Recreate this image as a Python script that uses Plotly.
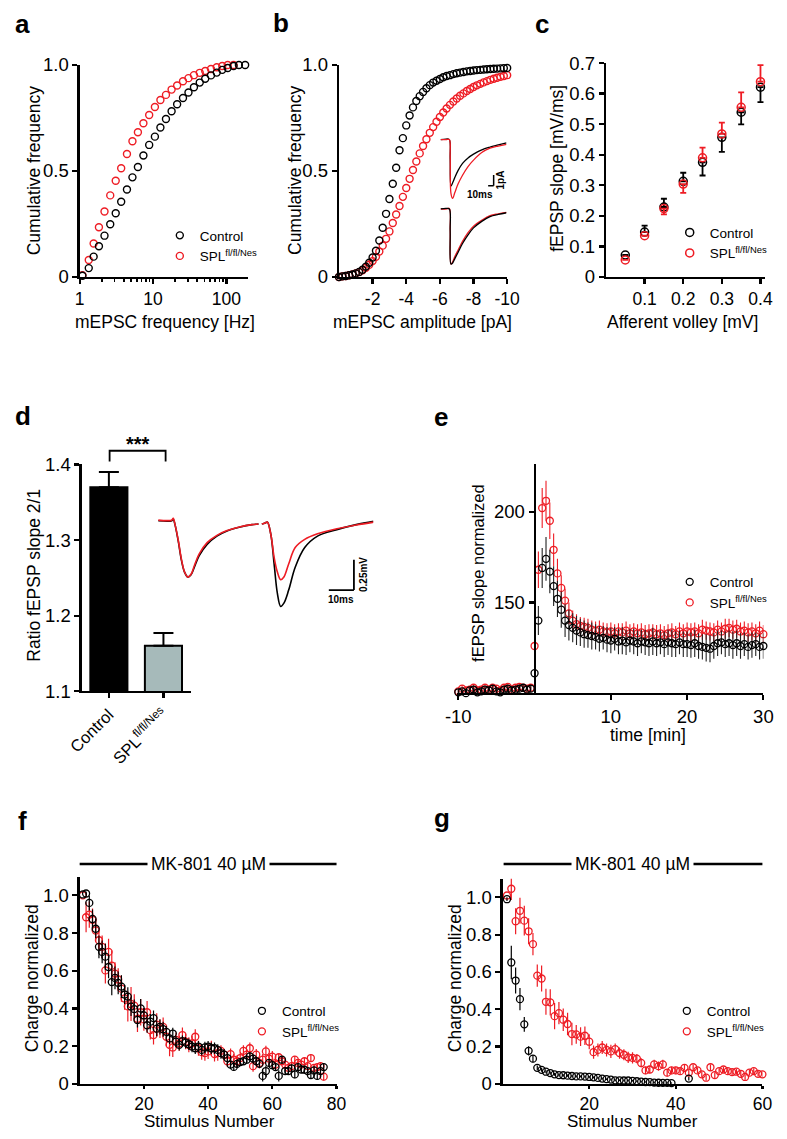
import plotly.graph_objects as go

W, H = 787, 1139
FONT = "Liberation Sans, Arial, sans-serif"
RED = "#ee1c24"
BLK = "#000000"
GREYBAR = "#a6baba"

# ---------------- data ----------------
# a: cumulative frequency of mEPSC frequency
freq_a = [1.09, 1.33, 1.55, 1.83, 2.18, 2.61, 3.10, 3.68, 4.41, 5.24, 6.22, 7.39, 8.86, 10.6, 12.6,
          15.0, 17.9, 21.3, 25.6, 30.4, 36.1, 43.3, 51.4, 61.6, 73.8, 87.7, 104, 125, 148, 180]
ctrl_a = [0.006, 0.042, 0.096, 0.145, 0.195, 0.249, 0.301, 0.355, 0.413, 0.47, 0.519, 0.573, 0.623, 0.662,
          0.705, 0.745, 0.782, 0.815, 0.844, 0.870, 0.895, 0.917, 0.935, 0.951, 0.964, 0.977, 0.986, 0.995,
          1.0, 1.0]
spl_a = [0.009, 0.080, 0.158, 0.235, 0.309, 0.385, 0.454, 0.513, 0.580, 0.640, 0.683, 0.725, 0.764, 0.802,
         0.835, 0.859, 0.884, 0.903, 0.923, 0.938, 0.952, 0.963, 0.972, 0.981, 0.989, 0.995, 1.0, 1.0]

# b: cumulative frequency of mEPSC amplitude
amp_b = [0, -0.2, -0.4, -0.6, -0.8, -1.0, -1.2, -1.4, -1.6, -1.8, -2.0, -2.2, -2.4, -2.6, -2.8, -3.0,
         -3.2, -3.4, -3.6, -3.8, -4.0, -4.2, -4.4, -4.6, -4.8, -5.0, -5.2, -5.4, -5.6, -5.8, -6.0, -6.2,
         -6.4, -6.6, -6.8, -7.0, -7.2, -7.4, -7.6, -7.8, -8.0, -8.2, -8.4, -8.6, -8.8, -9.0, -9.2, -9.4,
         -9.6, -9.8, -10.0]
ctrl_b = [0.0, 0.003, 0.005, 0.008, 0.012, 0.017, 0.024, 0.034, 0.049, 0.067, 0.092, 0.124, 0.172, 0.232,
          0.298, 0.368, 0.44, 0.515, 0.598, 0.655, 0.715, 0.762, 0.80, 0.83, 0.853, 0.873, 0.89, 0.905,
          0.917, 0.926, 0.934, 0.942, 0.948, 0.952, 0.957, 0.961, 0.964, 0.967, 0.970, 0.972, 0.974,
          0.976, 0.977, 0.979, 0.980, 0.981, 0.982, 0.983, 0.984, 0.985, 0.986]
spl_b = [0.0, 0.003, 0.005, 0.008, 0.012, 0.017, 0.023, 0.032, 0.044, 0.058, 0.075, 0.095, 0.12, 0.148,
         0.18, 0.215, 0.255, 0.295, 0.335, 0.378, 0.42, 0.463, 0.505, 0.545, 0.583, 0.618, 0.65, 0.68,
         0.707, 0.732, 0.755, 0.776, 0.795, 0.812, 0.828, 0.842, 0.855, 0.866, 0.877, 0.887, 0.896,
         0.904, 0.911, 0.918, 0.924, 0.93, 0.935, 0.94, 0.944, 0.948, 0.952]

# b insets: averaged mEPSC traces (time ms, current pA)
t_b_inset = [0, 10, 16, 17.5, 19, 22, 26, 32, 40, 50, 60, 75, 90, 105, 120]
up_ctrl = [0, 0.05, 0, -1.8, -4.3, -4.0, -3.5, -2.85, -2.2, -1.7, -1.35, -0.95, -0.7, -0.5, -0.3]
up_spl = [0, 0, 0, -1.5, -5.0, -5.45, -4.9, -4.1, -3.3, -2.5, -1.9, -1.2, -0.8, -0.6, -0.45]
low_ctrl = [0, 0.05, 0, -2.0, -5.1, -5.0, -4.6, -4.0, -3.2, -2.4, -1.75, -1.15, -0.7, -0.5, -0.35]
low_spl = [0, 0, 0.05, -2.0, -5.1, -4.9, -4.4, -3.8, -3.0, -2.2, -1.6, -1.05, -0.62, -0.45, -0.32]

# c: input-output
volley_c = [0.05, 0.10, 0.15, 0.20, 0.25, 0.30, 0.35, 0.40]
ctrl_c = [0.072, 0.147, 0.229, 0.313, 0.375, 0.457, 0.539, 0.621]
ctrl_c_up = [0, 0.021, 0.027, 0.028, 0, 0, 0, 0]
ctrl_c_dn = [0, 0, 0, 0, 0.043, 0.048, 0.040, 0.049]
spl_c = [0.056, 0.135, 0.224, 0.304, 0.390, 0.468, 0.555, 0.639]
spl_c_up = [0, 0, 0, 0, 0.033, 0.037, 0.049, 0.054]
spl_c_dn = [0, 0, 0.019, 0.029, 0, 0, 0, 0]

# d: paired-pulse ratio
groups_d = ["Control", "SPL<sup>fl/fl/Nes</sup>"]
ratio_d = [1.37, 1.16]
ratio_err_d = [0.02, 0.017]
# d inset traces (time ms, mV)
t_d = [0, 5.4, 6.0, 6.7, 8.0, 9.3, 10.5, 11.8, 13.1, 14.4, 16.3, 19.5, 23.4, 27.2, 32.3, 37.4, 40.0, None,
       41.3, 42.6, 43.5, 44.9, 46.2, 47.5, 48.8, 50.1, 52.0, 54.6, 58.4, 63.5, 71.2, 78.9, 85.9]
v_d_ctrl = [0, 0, 0.013, -0.032, -0.167, -0.328, -0.422, -0.463, -0.444, -0.382, -0.288, -0.194, -0.126,
            -0.086, -0.054, -0.032, -0.027, None, -0.027, -0.019, -0.01, -0.113, -0.355, -0.597, -0.704,
            -0.677, -0.57, -0.382, -0.22, -0.126, -0.073, -0.032, -0.005]
v_d_spl = [0.005, 0.005, 0.02, -0.03, -0.16, -0.32, -0.42, -0.463, -0.44, -0.37, -0.275, -0.18, -0.12,
           -0.083, -0.052, -0.032, -0.027, None, -0.027, -0.019, -0.01, -0.113, -0.301, -0.422, -0.484,
           -0.462, -0.355, -0.22, -0.153, -0.107, -0.065, -0.035, -0.011]

# e: LTP time course
t_e = [-10, -9.5, -9, -8.5, -8, -7.5, -7, -6.5, -6, -5.5, -5, -4.5, -4, -3.5, -3, -2.5, -2, -1.5, -1, -0.5,
       0, 0.5, 1, 1.5, 2, 2.5, 3, 3.5, 4, 4.5, 5, 5.5, 6, 6.5, 7, 7.5, 8, 8.5, 9, 9.5,
       10, 10.5, 11, 11.5, 12, 12.5, 13, 13.5, 14, 14.5, 15, 15.5, 16, 16.5, 17, 17.5, 18, 18.5, 19, 19.5,
       20, 20.5, 21, 21.5, 22, 22.5, 23, 23.5, 24, 24.5, 25, 25.5, 26, 26.5, 27, 27.5, 28, 28.5, 29, 29.5, 30]
ctrl_e = [100.5, 101, 100, 101.5, 102, 100.5, 101, 102, 101.5, 102.5, 101, 100.5, 102, 102.5, 101.5, 102,
          102.5, 103, 102, 102.5,
          111, 140, 169, 174, 167, 159, 152, 146, 140, 137.5, 136, 134.5, 133.5, 132.5, 132, 131.5, 131, 130,
          130.5, 129.5, 129, 130, 128.5, 129, 128, 129, 128.5, 127.5, 128.5, 128, 127.5, 128.5, 127.5, 128,
          127, 128, 127.5, 127, 128, 127, 127, 126.5, 127.5, 126, 125.5, 125, 124.5, 126, 127.5, 128, 127,
          127.5, 126.5, 127.5, 126, 127, 125.5, 126.5, 127, 125.5, 126]
ctrl_e_err = [1.5, 1.5, 2, 1.5, 2, 1.5, 2, 1.5, 2, 2, 1.5, 2, 1.5, 2, 2, 1.5, 2, 2, 1.5, 2,
              4, 8, 11, 12, 12, 11, 10, 10, 9, 8.5, 8, 8, 7.5, 7.5, 7, 7.5, 7, 7, 6.5, 7,
              7, 6.5, 7, 7.5, 7, 6.5, 7, 7, 6.5, 7, 7, 7.5, 7, 6.5, 7, 7, 7.5, 7, 6.5, 7,
              7, 7, 7.5, 7, 7, 7.5, 7.5, 7, 7, 6.5, 7, 7, 7.5, 7, 7, 6.5, 7, 7, 6.5, 7, 7]
spl_e = [101, 102.5, 101.5, 102, 103, 101.5, 102, 103, 102, 103, 102.5, 101.5, 103, 103.5, 102, 103, 103.5,
         103, 102.5, 103,
         126, 168, 202, 206, 195, 179, 166, 158, 151, 144, 140, 138, 137, 136.5, 136, 135, 134.5, 135, 134,
         133.5, 134, 133, 134, 133.5, 134.5, 133, 134, 133, 133.5, 132.5, 133, 133.5, 132.5, 133, 132, 133,
         133.5, 132.5, 134, 133, 134, 133.5, 134, 133, 135, 134.5, 134, 133.5, 135, 134, 135.5, 136, 135,
         135.5, 134, 134.5, 133.5, 134, 133, 134.5, 132.5]
spl_e_err = [1.5, 2, 1.5, 2, 1.5, 2, 1.5, 2, 2, 1.5, 2, 1.5, 2, 2, 1.5, 2, 1.5, 2, 2, 1.5,
             6, 10, 11, 11, 10, 9, 8, 7, 6.5, 6, 5.5, 5.5, 5, 5, 5, 5, 5, 5, 5, 5,
             5, 5, 4.5, 5, 5, 5, 4.5, 5, 5, 5, 5, 4.5, 5, 5, 5, 5, 5, 4.5, 5, 5,
             5, 5, 5, 5, 5.5, 5, 5, 5, 5, 5, 5.5, 5, 5, 5, 5, 5, 5, 5, 5, 5, 5]

# f: MK-801 block, stimulus number 1..76
stim_f = list(range(1, 77))
ctrl_f = [1.005, 1.01, 0.96, 0.875, 0.823, 0.727, 0.70, 0.675, 0.62, 0.54,
          0.562, 0.536, 0.516, 0.474, 0.463, 0.41, 0.397, 0.339, 0.40, 0.363,
          0.311, 0.33, 0.349, 0.293, 0.302, 0.29, 0.276, 0.241, 0.267, 0.224,
          0.207, 0.227, 0.219, 0.21, 0.198, 0.189, 0.198, 0.18, 0.193, 0.198,
          0.189, 0.189, 0.18, 0.163, 0.155, 0.137, 0.102, 0.09, 0.106, 0.115,
          0.12, 0.128, 0.146, 0.134, 0.12, 0.106, 0.042, 0.068, 0.111, 0.099,
          0.089, 0.042, 0.128, 0.068, 0.068, 0.082, 0.05, 0.089, 0.076, 0.075,
          0.068, 0.047, 0.071, 0.042, 0.068, 0.089]
ctrl_f_err = [0, 0.01, 0.04, 0.05, 0.05, 0.06, 0.06, 0.07, 0.06, 0.07,
              0.06, 0.06, 0.06, 0.05, 0.05, 0.05, 0.05, 0.04, 0.05, 0.04,
              0.04, 0.04, 0.04, 0.04, 0.04, 0.04, 0.03, 0.03, 0.03, 0.03,
              0.03, 0.03, 0.03, 0.03, 0.03, 0.03, 0.03, 0.03, 0.03, 0.03,
              0.03, 0.03, 0.03, 0.03, 0.03, 0.03, 0.02, 0.02, 0.02, 0.02,
              0.02, 0.02, 0.02, 0.02, 0.02, 0.02, 0.03, 0.03, 0.02, 0.02,
              0.02, 0.03, 0.02, 0.02, 0.02, 0.02, 0.02, 0.02, 0.02, 0.02,
              0.02, 0.02, 0.02, 0.02, 0.02, 0.02]
spl_f = [1.0, 0.884, 0.898, 0.87, 0.814, 0.762, 0.727, 0.602, 0.70, 0.627,
         0.585, 0.554, 0.505, 0.453, 0.411, 0.424, 0.415, 0.345, 0.38, 0.342,
         0.38, 0.285, 0.259, 0.314, 0.293, 0.302, 0.25, 0.207, 0.193, 0.233,
         0.215, 0.259, 0.224, 0.207, 0.215, 0.25, 0.189, 0.168, 0.163, 0.172,
         0.189, 0.158, 0.163, 0.175, 0.155, 0.12, 0.158, 0.128, 0.12, 0.137,
         0.175, 0.155, 0.189, 0.094, 0.155, 0.111, 0.128, 0.172, 0.134, 0.144,
         0.102, 0.141, 0.12, 0.102, 0.085, 0.094, 0.128, 0.111, 0.102, 0.12,
         0.094, 0.137, 0.085, 0.089, 0.094, 0.038]
spl_f_err = [0, 0.08, 0.07, 0.06, 0.06, 0.05, 0.06, 0.07, 0.07, 0.08,
             0.06, 0.06, 0.07, 0.06, 0.08, 0.09, 0.06, 0.07, 0.07, 0.06,
             0.06, 0.05, 0.05, 0.06, 0.05, 0.05, 0.05, 0.06, 0.05, 0.04,
             0.04, 0.04, 0.04, 0.04, 0.04, 0.04, 0.04, 0.04, 0.04, 0.04,
             0.04, 0.04, 0.04, 0.03, 0.03, 0.03, 0.03, 0.03, 0.03, 0.03,
             0.03, 0.03, 0.03, 0.03, 0.03, 0.03, 0.03, 0.03, 0.03, 0.03,
             0.03, 0.02, 0.02, 0.02, 0.02, 0.02, 0.02, 0.02, 0.02, 0.02,
             0.02, 0.02, 0.02, 0.02, 0.02, 0.02]

# g: MK-801 block, stimulus number 1..60
stim_g = list(range(1, 61))
ctrl_g = [0.99, 0.651, 0.554, 0.454, 0.319, 0.177, 0.135,
          0.086, 0.075, 0.065, 0.058, 0.051, 0.047, 0.046, 0.044, 0.042, 0.04, 0.04, 0.039, 0.037, 0.035,
          0.032, 0.028, 0.025, 0.023, 0.019, 0.019, 0.018, 0.018, 0.016, 0.014, 0.012, 0.010, 0.009,
          0.007, 0.006, 0.005, 0.005, 0.004,
          None, None, None, 0.028, None, None, None, None, None, None, None, None, None, None, None, None,
          None, None, None, None, None]
ctrl_g_err = [0.01, 0.09, 0.07, 0.06, 0.04, 0.025, 0.02,
              0.012, 0.01, 0.008, 0.008, 0.007, 0.007, 0.006, 0.006, 0.006, 0.005, 0.005, 0.005, 0.005,
              0.005, 0.005, 0.005, 0.004, 0.004, 0.004, 0.004, 0.004, 0.004, 0.004, 0.004, 0.003, 0.003,
              0.003, 0.003, 0.003, 0.003, 0.003, 0.003,
              0, 0, 0, 0.01, 0, 0, 0, 0, 0, 0, 0, 0, 0, 0, 0, 0, 0, 0, 0, 0, 0]
spl_g = [1.01, 1.046, 0.872, 0.928, 0.875, 0.818, 0.749, 0.58, 0.565, 0.44,
         0.437, 0.363, 0.379, 0.344, 0.321, 0.267, 0.265, 0.253, 0.258, 0.226,
         0.17, 0.182, 0.195, 0.182, 0.174, 0.186, 0.165, 0.156, 0.142, 0.139,
         0.135, 0.112, 0.072, 0.077, 0.104, 0.095, 0.104, 0.06, 0.072, 0.072,
         0.068, 0.086, 0.06, 0.089, 0.072, 0.051, 0.033, 0.089, 0.047, 0.068,
         0.077, 0.068, 0.063, 0.065, 0.054, 0.037, 0.06, 0.068, 0.054, 0.051]
spl_g_err = [0, 0.06, 0.07, 0.07, 0.08, 0.07, 0.06, 0.06, 0.07, 0.07,
             0.07, 0.07, 0.06, 0.06, 0.06, 0.06, 0.05, 0.05, 0.05, 0.04,
             0.035, 0.035, 0.035, 0.035, 0.035, 0.03, 0.03, 0.03, 0.03, 0.03,
             0.025, 0.025, 0.02, 0.02, 0.025, 0.025, 0.025, 0.02, 0.02, 0.02,
             0.015, 0.015, 0.015, 0.015, 0.015, 0.015, 0.015, 0.015, 0.015, 0.015,
             0.015, 0.015, 0.015, 0.015, 0.015, 0.015, 0.015, 0.015, 0.015, 0.015]

CTRL_NAME = "Control"
SPL_NAME = "SPL<sup>fl/fl/Nes</sup>"


# ---------------- helpers ----------------
def fx(p):
    return p / W


def fy(p):
    return 1 - p / H


def dx(a, b):
    return [fx(a), fx(b)]


def dy(top, bottom):
    return [fy(bottom), fy(top)]


TICKFONT = dict(family=FONT, size=18.5, color="black")
AX = dict(showline=True, linewidth=2.2, linecolor="black", ticks="outside", ticklen=5, tickwidth=2.2,
          tickcolor="black", showgrid=False, zeroline=False, tickfont=TICKFONT, fixedrange=True)
HID = dict(visible=False, showgrid=False, zeroline=False, fixedrange=True, showticklabels=False)
SMALLX = dict(family=FONT, size=17.5, color="black")


def mk(color, size=7, lw=1.4):
    return dict(symbol="circle-open", size=size, color=color, line=dict(width=lw, color=color))


fig = go.Figure()

# ---- a ----
fig.add_trace(go.Scatter(x=freq_a[:len(spl_a)], y=spl_a, mode="markers", marker=mk(RED), name=SPL_NAME,
                         xaxis="x", yaxis="y", legend="legend", legendrank=2, cliponaxis=False))
fig.add_trace(go.Scatter(x=freq_a, y=ctrl_a, mode="markers", marker=mk(BLK), name=CTRL_NAME,
                         xaxis="x", yaxis="y", legend="legend", legendrank=1, cliponaxis=False))

# ---- b ----
fig.add_trace(go.Scatter(x=amp_b, y=spl_b, mode="markers", marker=mk(RED), showlegend=False,
                         xaxis="x2", yaxis="y2", cliponaxis=False))
fig.add_trace(go.Scatter(x=amp_b, y=ctrl_b, mode="markers", marker=mk(BLK), showlegend=False,
                         xaxis="x2", yaxis="y2", cliponaxis=False))
for ys, col, ax in [(up_ctrl, BLK, "3"), (up_spl, RED, "3"), (low_spl, RED, "4"), (low_ctrl, BLK, "4")]:
    fig.add_trace(go.Scatter(x=t_b_inset, y=ys, mode="lines", line=dict(color=col, width=1.3, shape="spline"),
                             showlegend=False, xaxis="x" + ax, yaxis="y" + ax, hoverinfo="skip"))

# ---- c ----
fig.add_trace(go.Scatter(x=volley_c, y=ctrl_c, mode="markers", marker=mk(BLK, 8, 1.5), name=CTRL_NAME,
                         error_y=dict(type="data", symmetric=False, array=ctrl_c_up, arrayminus=ctrl_c_dn,
                                      color=BLK, thickness=1.8, width=3),
                         xaxis="x5", yaxis="y5", legend="legend2", legendrank=1, cliponaxis=False))
fig.add_trace(go.Scatter(x=volley_c, y=spl_c, mode="markers", marker=mk(RED, 8, 1.5), name=SPL_NAME,
                         error_y=dict(type="data", symmetric=False, array=spl_c_up, arrayminus=spl_c_dn,
                                      color=RED, thickness=1.8, width=3),
                         xaxis="x5", yaxis="y5", legend="legend2", legendrank=2, cliponaxis=False))

# ---- d ----
fig.add_trace(go.Bar(x=groups_d, y=ratio_d, width=0.68,
                     marker=dict(color=[BLK, GREYBAR], line=dict(color=BLK, width=2)),
                     error_y=dict(type="data", symmetric=False, array=ratio_err_d, arrayminus=[0, 0],
                                  color=BLK, thickness=2, width=10),
                     showlegend=False, xaxis="x6", yaxis="y6"))
fig.add_trace(go.Scatter(x=t_d, y=v_d_ctrl, mode="lines", line=dict(color=BLK, width=1.6, shape="spline"),
                         showlegend=False, xaxis="x7", yaxis="y7", connectgaps=False, hoverinfo="skip"))
fig.add_trace(go.Scatter(x=t_d, y=v_d_spl, mode="lines", line=dict(color=RED, width=1.6, shape="spline"),
                         showlegend=False, xaxis="x7", yaxis="y7", connectgaps=False, hoverinfo="skip"))

# ---- e ----
fig.add_trace(go.Scatter(x=t_e, y=spl_e, mode="markers", marker=mk(RED, 7, 1.3), name=SPL_NAME,
                         error_y=dict(type="data", array=spl_e_err, color=RED, thickness=1.1, width=0),
                         xaxis="x8", yaxis="y8", legend="legend3", legendrank=2, cliponaxis=False))
fig.add_trace(go.Scatter(x=t_e, y=ctrl_e, mode="markers", marker=mk(BLK, 7, 1.3), name=CTRL_NAME,
                         error_y=dict(type="data", array=ctrl_e_err, color="#222222", thickness=1.1, width=0),
                         xaxis="x8", yaxis="y8", legend="legend3", legendrank=1, cliponaxis=False))

# ---- f ----
fig.add_trace(go.Scatter(x=stim_f, y=spl_f, mode="markers", marker=mk(RED, 7, 1.3), name=SPL_NAME,
                         error_y=dict(type="data", array=spl_f_err, color=RED, thickness=1.2, width=0),
                         xaxis="x9", yaxis="y9", legend="legend4", legendrank=2, cliponaxis=False))
fig.add_trace(go.Scatter(x=stim_f, y=ctrl_f, mode="markers", marker=mk(BLK, 7, 1.3), name=CTRL_NAME,
                         error_y=dict(type="data", array=ctrl_f_err, color=BLK, thickness=1.2, width=0),
                         xaxis="x9", yaxis="y9", legend="legend4", legendrank=1, cliponaxis=False))

# ---- g ----
fig.add_trace(go.Scatter(x=stim_g, y=spl_g, mode="markers", marker=mk(RED, 7, 1.3), name=SPL_NAME,
                         error_y=dict(type="data", array=spl_g_err, color=RED, thickness=1.2, width=0),
                         xaxis="x10", yaxis="y10", legend="legend5", legendrank=2, cliponaxis=False))
fig.add_trace(go.Scatter(x=stim_g, y=ctrl_g, mode="markers", marker=mk(BLK, 7, 1.3), name=CTRL_NAME,
                         error_y=dict(type="data", array=ctrl_g_err, color=BLK, thickness=1.2, width=0),
                         xaxis="x10", yaxis="y10", legend="legend5", legendrank=1, cliponaxis=False))

# ---------------- axes ----------------
E_XR = [-10.2, 30]
E_XD = (458.5, 776)
e_y_pos = E_XD[0] + (0 - E_XR[0]) / (E_XR[1] - E_XR[0]) * (E_XD[1] - E_XD[0])

layout_axes = dict(
    xaxis=dict(AX, type="log", range=[0, 2.29], domain=dx(68, 242), anchor="y",
               tickvals=[1, 10, 100], ticktext=["1", "10", "100"], tickfont=SMALLX,
               minor=dict(ticks="outside", ticklen=3, tickwidth=1.5, tickcolor="black",
                          tickvals=[2, 3, 4, 5, 6, 7, 8, 9, 20, 30, 40, 50, 60, 70, 80, 90])),
    yaxis=dict(AX, range=[0, 1], domain=dy(55, 271), anchor="x", tickvals=[0, 0.5, 1],
               ticktext=["0", "0.5", "1.0"]),
    xaxis2=dict(AX, range=[0, -10], domain=dx(336.5, 510.7), anchor="y2", tickfont=SMALLX,
                tickvals=[-2, -4, -6, -8, -10], ticktext=["-2", "-4", "-6", "-8", "-10"]),
    yaxis2=dict(AX, range=[0, 1], domain=dy(55, 271), anchor="x2", tickvals=[0, 0.5, 1],
                ticktext=["0", "0.5", "1.0"]),
    xaxis3=dict(HID, range=[0, 120], domain=dx(441.7, 510), anchor="y3"),
    yaxis3=dict(HID, range=[-5.8, 0.3], domain=dy(127.7, 194.8), anchor="x3"),
    xaxis4=dict(HID, range=[0, 120], domain=dx(441.7, 510), anchor="y4"),
    yaxis4=dict(HID, range=[-5.6, 0.3], domain=dy(198.4, 263.3), anchor="x4"),
    xaxis5=dict(AX, range=[0, 0.4125], domain=dx(613, 778), anchor="y5", tickfont=SMALLX,
                tickvals=[0.1, 0.2, 0.3, 0.4], ticktext=["0.1", "0.2", "0.3", "0.4"]),
    yaxis5=dict(AX, range=[0, 0.7], domain=dy(53, 271), anchor="x5",
                tickvals=[0, 0.1, 0.2, 0.3, 0.4, 0.5, 0.6, 0.7],
                ticktext=["0", "0.1", "0.2", "0.3", "0.4", "0.5", "0.6", "0.7"]),
    xaxis6=dict(AX, type="category", range=[-0.5, 1.5], domain=dx(70, 183), anchor="y6", tickangle=-45,
                tickfont=dict(family=FONT, size=16.5, color="black")),
    yaxis6=dict(AX, range=[1.1, 1.4], domain=dy(462, 693), anchor="x6", tickvals=[1.1, 1.2, 1.3, 1.4],
                ticktext=["1.1", "1.2", "1.3", "1.4"]),
    xaxis7=dict(HID, range=[0, 85.7], domain=dx(149.3, 372), anchor="y7"),
    yaxis7=dict(HID, range=[-0.75, 0.06], domain=dy(511.9, 612.3), anchor="x7"),
    xaxis8=dict(AX, range=E_XR, domain=dx(*E_XD), anchor="y8", tickvals=[-10, 10, 20, 30],
                ticktext=["-10", "10", "20", "30"]),
    yaxis8=dict(AX, range=[100, 226], domain=dy(462, 695), anchor="free", position=fx(e_y_pos),
                tickvals=[150, 200], ticktext=["150", "200"]),
    xaxis9=dict(AX, range=[0, 80], domain=dx(68, 334), anchor="y9", tickvals=[20, 40, 60, 80],
                ticktext=["20", "40", "60", "80"], ticklen=3, tickfont=SMALLX),
    yaxis9=dict(AX, range=[0, 1.1], domain=dy(881.8, 1093), anchor="x9",
                tickvals=[0, 0.2, 0.4, 0.6, 0.8, 1.0], ticktext=["0", "0.2", "0.4", "0.6", "0.8", "1.0"]),
    xaxis10=dict(AX, range=[0, 60], domain=dx(506, 775), anchor="y10", tickvals=[20, 40, 60],
                 ticktext=["20", "40", "60"], ticklen=3, tickfont=SMALLX),
    yaxis10=dict(AX, range=[0, 1.1], domain=dy(884, 1093), anchor="x10",
                 tickvals=[0, 0.2, 0.4, 0.6, 0.8, 1.0], ticktext=["0", "0.2", "0.4", "0.6", "0.8", "1.0"]),
)


# ---------------- legends ----------------
def legend_at(left_px, top_px):
    return dict(x=fx(left_px), y=fy(top_px), xanchor="left", yanchor="top",
                bgcolor="rgba(0,0,0,0)", borderwidth=0, itemwidth=30, tracegroupgap=0,
                font=dict(family=FONT, size=13.5, color="black"), itemclick=False, itemdoubleclick=False)


legends = dict(
    legend=legend_at(151, 213),
    legend2=legend_at(679, 210),
    legend3=legend_at(679, 566),
    legend4=legend_at(236, 1003),
    legend5=legend_at(676, 1003),
)

# ---------------- annotations ----------------
ann = []


def text(x, y, s, size=17.5, bold=False, angle=0, xanchor="center", yanchor="middle", bg=None, pad=0):
    d = dict(x=fx(x), y=fy(y), xref="paper", yref="paper", text=("<b>%s</b>" % s) if bold else s,
             showarrow=False, font=dict(family=FONT, size=size, color="black"), textangle=angle,
             xanchor=xanchor, yanchor=yanchor)
    if bg:
        d["bgcolor"] = bg
        d["borderpad"] = pad
    ann.append(d)


# panel letters
for lab, x, y in [("a", 9, 13), ("b", 277, 12), ("c", 547, 13), ("d", 9, 413), ("e", 442, 414),
                  ("f", 9, 825), ("g", 443, 822)]:
    text(x, y, lab, size=26, bold=True)

# axis titles
text(156, 317, "mEPSC frequency [Hz]")
text(423, 317, "mEPSC amplitude [pA]")
text(692, 317, "Afferent volley [mV]")
text(21, 163, "Cumulative frequency", angle=-90)
text(291, 163, "Cumulative frequency", angle=-90)
text(562, 160, "fEPSP slope [mV/ms]", angle=-90)
text(21, 575, "Ratio fEPSP slope 2/1", angle=-90)
text(481, 572, "fEPSP slope normalized", angle=-90, size=16.5)
text(657, 738, "time [min]")
text(18, 985, "Charge normalized", angle=-90)
text(456, 985, "Charge normalized", angle=-90)
text(202, 1131, "Stimulus Number", size=17)
text(640, 1131, "Stimulus Number", size=17)

# MK-801 labels
text(201, 869, "MK-801 40 µM", bg="white", pad=3)
text(640, 869, "MK-801 40 µM", bg="white", pad=3)

# significance
text(128, 441, "***", size=20, bold=True)

# scale bar labels
text(483, 187, "10ms", size=10, bold=True)
text(504, 172, "1pA", size=10, bold=True, angle=-90)
text(339, 600, "10ms", size=10, bold=True)
text(362, 574, "0.25mV", size=10, bold=True, angle=-90)

# ---------------- shapes ----------------
shapes = []


def pline(x0, y0, x1, y1, w=2.5):
    shapes.append(dict(type="line", xref="paper", yref="paper", x0=fx(x0), y0=fy(y0), x1=fx(x1), y1=fy(y1),
                       line=dict(color="black", width=w), layer="below"))


# MK-801 bars (behind the label text)
pline(68, 869, 334, 869)
pline(507, 869, 775, 869)
# significance bracket
shapes.append(dict(type="path", xref="paper", yref="paper",
                   path="M %f %f L %f %f L %f %f L %f %f" % (fx(99), fy(459), fx(99), fy(448),
                                                            fx(157), fy(448), fx(157), fy(459)),
                   line=dict(color="black", width=1.8)))
# scale bars: b inset (10 ms, 1 pA)
for x0, y0, x1, y1 in [(96.6, -3.27, 96.6, -4.27), (86.6, -4.27, 96.6, -4.27)]:
    shapes.append(dict(type="line", xref="x3", yref="y3", x0=x0, y0=y0, x1=x1, y1=y1,
                       line=dict(color="black", width=1.5)))
# scale bars: d inset (10 ms, 0.25 mV)
for x0, y0, x1, y1 in [(78, -0.32, 78, -0.57), (68, -0.57, 78, -0.57)]:
    shapes.append(dict(type="line", xref="x7", yref="y7", x0=x0, y0=y0, x1=x1, y1=y1,
                       line=dict(color="black", width=1.8)))

fig.update_layout(
    width=W, height=H, margin=dict(l=0, r=0, t=0, b=0), autosize=False,
    paper_bgcolor="white", plot_bgcolor="rgba(0,0,0,0)",
    font=dict(family=FONT, color="black"),
    showlegend=True, bargap=0.3,
    annotations=ann, shapes=shapes,
    **layout_axes, **legends,
)

fig.write_html("out.html", config=dict(displayModeBar=False, staticPlot=True),
               post_script="document.body.style.margin='0px';document.body.style.padding='0px';")
